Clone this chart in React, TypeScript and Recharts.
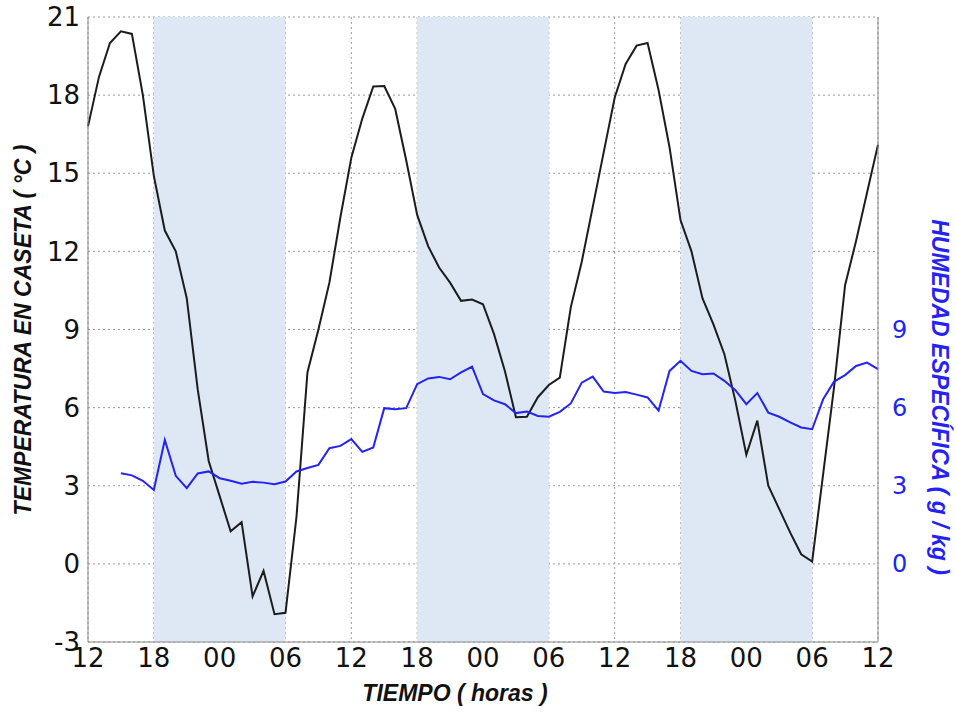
import {
  CartesianGrid,
  ComposedChart,
  Label,
  Line,
  ReferenceArea,
  XAxis,
  YAxis,
} from 'recharts';

// hourly samples, hour 0 = 12:00 of the first day
const temperature = [
  16.8, 18.7, 20.0, 20.45, 20.35, 18.0, 14.9, 12.8, 12.0, 10.2, 6.7, 3.95,
  2.6, 1.25, 1.6, -1.25, -0.27, -1.93, -1.88, 1.8, 7.35, 9.0, 10.8, 13.3,
  15.6, 17.1, 18.33, 18.35, 17.47, 15.5, 13.4, 12.2, 11.38, 10.8, 10.1, 10.15,
  9.97, 8.83, 7.4, 5.63, 5.65, 6.4, 6.87, 7.15, 9.85, 11.6, 13.7, 15.8,
  17.9, 19.2, 19.9, 20.0, 18.2, 16.0, 13.2, 12.0, 10.2, 9.2, 8.05, 6.26,
  4.19, 5.5, 3.0, 2.1, 1.2, 0.37, 0.09, 3.45, 6.8, 10.7, 12.4, 14.25,
  16.1,
];

const humidity = [
  null, null, null, 3.48, 3.4, 3.19, 2.84, 4.76, 3.38, 2.91, 3.47, 3.55,
  3.29, 3.19, 3.08, 3.15, 3.12, 3.06, 3.16, 3.55, 3.68, 3.8, 4.44, 4.53,
  4.79, 4.3, 4.47, 5.98, 5.94, 5.98, 6.9, 7.12, 7.18, 7.09, 7.35, 7.57,
  6.52, 6.28, 6.13, 5.79, 5.85, 5.68, 5.65, 5.84, 6.16, 6.96, 7.19, 6.62,
  6.56, 6.6, 6.5, 6.39, 5.88, 7.41, 7.8, 7.41, 7.28, 7.31, 7.03, 6.67,
  6.13, 6.56, 5.81, 5.65, 5.43, 5.24, 5.17, 6.32, 7.0, 7.25, 7.6, 7.73,
  7.48,
];

const hourTicks = [0, 6, 12, 18, 24, 30, 36, 42, 48, 54, 60, 66, 72];
const hourLabels = ['12', '18', '00', '06', '12', '18', '00', '06', '12', '18', '00', '06', '12'];
const tempTicks = [-3, 0, 3, 6, 9, 12, 15, 18, 21];
const humTicks = [0, 3, 6, 9];

// night periods (18h -> 06h)
const nights = [
  [6, 18],
  [30, 42],
  [54, 66],
];

const data = temperature.map((t, i) => ({ hour: i, temp: t, hum: humidity[i] }));

const TICK_FONT = '"DejaVu Sans", sans-serif';
const TITLE_FONT = '"Liberation Sans Narrow", "Liberation Sans", sans-serif';
const BLUE = '#2323f5';

// rotated axis title placed relative to the axis box
function AxisTitle(props: any) {
  const { viewBox, value, ox, oy, rot, color } = props;
  const cx = viewBox.x + ox;
  const cy = viewBox.y + oy;
  return (
    <text
      transform={`translate(${cx},${cy}) rotate(${rot})`}
      textAnchor='middle'
      dominantBaseline='central'
      fontFamily={TITLE_FONT}
      fontStyle='italic'
      fontWeight='bold'
      fontSize={23}
      fill={color}
    >
      {value}
    </text>
  );
}

export default function App() {
  return (
    <div style={{ position: 'absolute', left: 0, top: 0, background: '#fff' }}>
      <ComposedChart
        width={956}
        height={713}
        data={data}
        margin={{ top: 17, right: 0, bottom: 0, left: 0 }}
      >
        {nights.map(([a, b]) => (
          <ReferenceArea
            key={a}
            xAxisId='x'
            yAxisId='t'
            x1={a}
            x2={b}
            y1={-3}
            y2={21}
            fill='#dee8f5'
            fillOpacity={1}
            stroke='none'
            ifOverflow='hidden'
          />
        ))}
        <CartesianGrid
          xAxisId='x'
          yAxisId='t'
          stroke='#9a9a9a'
          strokeDasharray='2 3'
        />
        <XAxis
          xAxisId='x'
          dataKey='hour'
          type='number'
          domain={[0, 72]}
          ticks={hourTicks}
          tickFormatter={(v) => hourLabels[hourTicks.indexOf(v)]}
          interval={0}
          height={71}
          tickLine={false}
          tickMargin={1}
          axisLine={{ stroke: '#888' }}
          tick={{ fill: '#111', fontSize: 26, fontFamily: TICK_FONT }}
        >
          <Label
            value='TIEMPO ( horas )'
            content={<AxisTitle ox={367} oy={51} rot={0} color='#111' />}
          />
        </XAxis>
        <XAxis
          xAxisId='top'
          orientation='top'
          type='number'
          domain={[0, 72]}
          height={0}
          tick={false}
          tickLine={false}
          axisLine={{ stroke: '#888' }}
        />
        <YAxis
          yAxisId='t'
          domain={[-3, 21]}
          ticks={tempTicks}
          interval={0}
          width={88}
          tickLine={false}
          axisLine={{ stroke: '#888' }}
          tick={{ fill: '#111', fontSize: 26, fontFamily: TICK_FONT }}
        >
          <Label
            value='TEMPERATURA EN CASETA  ( °C )'
            content={<AxisTitle ox={23} oy={313} rot={-90} color='#111' />}
          />
        </YAxis>
        <YAxis
          yAxisId='h'
          orientation='right'
          domain={[-3, 21]}
          ticks={humTicks}
          interval={0}
          width={78}
          tickLine={false}
          tickMargin={8}
          axisLine={{ stroke: '#888' }}
          tick={{ fill: BLUE, fontSize: 24, fontFamily: TICK_FONT }}
        >
          <Label
            value='HUMEDAD ESPECÍFICA  ( g / kg )'
            content={<AxisTitle ox={62} oy={380} rot={90} color={BLUE} />}
          />
        </YAxis>
        <Line
          xAxisId='x'
          yAxisId='t'
          dataKey='temp'
          stroke='#1c1c1c'
          strokeWidth={2}
          dot={false}
          isAnimationActive={false}
        />
        <Line
          xAxisId='x'
          yAxisId='h'
          dataKey='hum'
          stroke={BLUE}
          strokeWidth={2}
          dot={false}
          isAnimationActive={false}
        />
      </ComposedChart>
    </div>
  );
}
